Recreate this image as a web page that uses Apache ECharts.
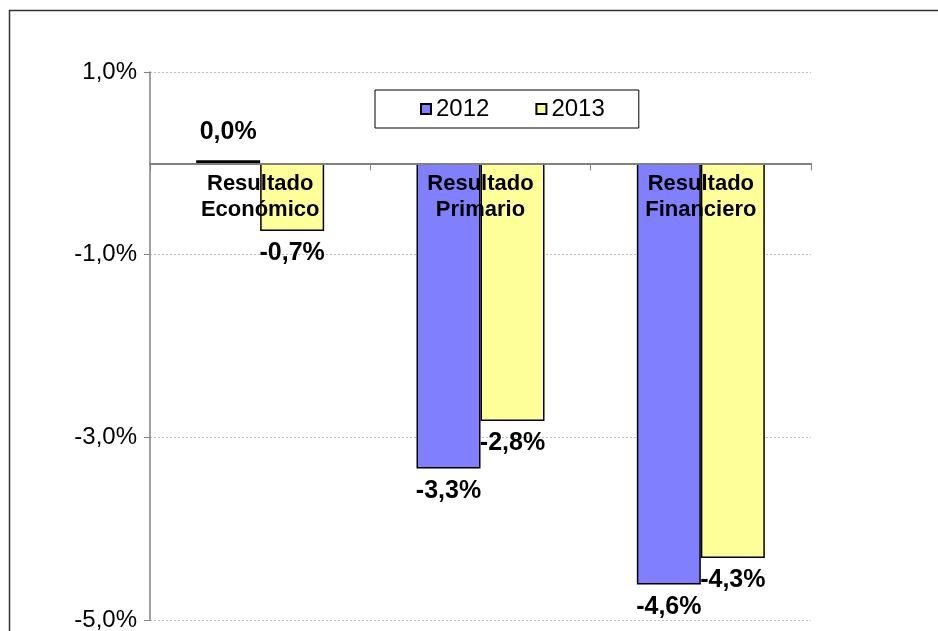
<!DOCTYPE html>
<html>
<head>
<meta charset="utf-8">
<script src="https://cdn.jsdelivr.net/npm/echarts@6/dist/echarts.min.js"></script>
<style>
html,body{margin:0;padding:0;background:#fff;}
#chart{width:938px;height:631px;}
</style>
</head>
<body>
<div id="chart"></div>
<script>
var categories = ['Resultado\nEconómico', 'Resultado\nPrimario', 'Resultado\nFinanciero'];
var seriesNames = ['2012', '2013'];
var values2012 = [0.0, -3.34, -4.61];
var values2013 = [-0.74, -2.82, -4.32];
var yTicks = { min: -5, max: 1, interval: 2 };

var FONT = '"Liberation Sans", Arial, sans-serif';
var GRID = { left: 150, right: 127, top: 72, bottom: 11 };
var CH = 631;

function fmt(v) {
  return v.toFixed(1).replace('.', ',') + '%';
}
function buildData(arr) {
  return arr.map(function (v) {
    return { value: v, label: { position: v >= 0 ? 'top' : 'bottom', distance: v === 0 ? 16 : 10 } };
  });
}
// pixel offset of the zero line from the top of the plot area
var plotH = CH - GRID.top - GRID.bottom;
var zeroOffset = plotH * (yTicks.max - 0) / (yTicks.max - yTicks.min);

var chart = echarts.init(document.getElementById('chart'), null, { renderer: 'canvas' });
var option = {
  backgroundColor: '#fff',
  animation: false,
  graphic: [{
    type: 'rect',
    shape: { x: 9.5, y: 10.5, width: 1200, height: 1200 },
    style: { fill: 'none', stroke: '#333', lineWidth: 1.5 },
    silent: true
  }],
  legend: {
    top: 90,
    left: 375,
    padding: [7, 34, 7, 45],
    itemGap: 46,
    itemWidth: 10,
    itemHeight: 10,
    icon: 'rect',
    borderColor: '#000',
    borderWidth: 1,
    backgroundColor: '#fff',
    textStyle: { fontFamily: FONT, fontSize: 24, color: '#000' },
    data: seriesNames
  },
  grid: {
    left: GRID.left, right: GRID.right, top: GRID.top, bottom: GRID.bottom,
    containLabel: false, outerBoundsMode: 'none'
  },
  xAxis: {
    type: 'category',
    data: categories,
    position: 'top',
    offset: -zeroOffset,
    z: 10,
    axisLine: { onZero: false, lineStyle: { color: '#808080', width: 2 } },
    axisTick: { show: true, inside: true, length: 7, lineStyle: { color: '#808080' } },
    axisLabel: {
      inside: true,
      margin: 8,
      fontFamily: FONT,
      fontSize: 22,
      fontWeight: 'bold',
      lineHeight: 26,
      color: '#000'
    },
    splitLine: { show: false }
  },
  yAxis: {
    type: 'value',
    min: yTicks.min,
    max: yTicks.max,
    interval: yTicks.interval,
    axisLine: { show: true, lineStyle: { color: '#808080', width: 1.5 } },
    axisTick: { show: true, inside: false, length: 6, lineStyle: { color: '#808080' } },
    axisLabel: {
      margin: 13,
      fontFamily: FONT,
      fontSize: 24,
      color: '#000',
      formatter: function (v) { return fmt(v); }
    },
    splitLine: { show: true, lineStyle: { color: '#bdbdbd', type: [2, 2], width: 1 } }
  },
  series: [{
    name: seriesNames[0],
    type: 'bar',
    barWidth: 64,
    barGap: '0%',
    barMinHeight: 3,
    data: buildData(values2012),
    itemStyle: { color: '#8080FF', borderColor: '#000', borderWidth: 1.5 },
    label: {
      show: true,
      fontFamily: FONT,
      fontSize: 25,
      fontWeight: 'bold',
      color: '#000',
      formatter: function (p) { return fmt(p.value); }
    }
  }, {
    name: seriesNames[1],
    type: 'bar',
    barWidth: 64,
    barGap: '0%',
    data: buildData(values2013),
    itemStyle: { color: '#FFFF99', borderColor: '#000', borderWidth: 1.5 },
    label: {
      show: true,
      fontFamily: FONT,
      fontSize: 25,
      fontWeight: 'bold',
      color: '#000',
      formatter: function (p) { return fmt(p.value); }
    }
  }]
};
chart.setOption(option);
</script>
</body>
</html>
